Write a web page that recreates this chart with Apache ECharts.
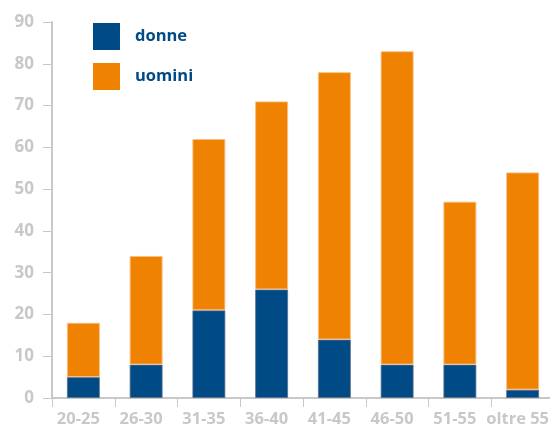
<!DOCTYPE html>
<html>
<head>
<meta charset="utf-8">
<script src="https://cdn.jsdelivr.net/npm/echarts@6/dist/echarts.min.js"></script>
<style>
  html, body { margin: 0; padding: 0; background: #fff; }
  #chart { width: 550px; height: 428px; }
</style>
</head>
<body>
<div id="chart"></div>
<script>
// Age groups and headcounts by gender
const categories = ['20-25', '26-30', '31-35', '36-40', '41-45', '46-50', '51-55', 'oltre 55'];
const donne = [5, 8, 21, 26, 14, 8, 8, 2];
const uomini = [13, 26, 41, 45, 64, 75, 39, 52];
const yTicks = { min: 0, max: 90, interval: 10 };

const BLUE = '#004a85';
const ORANGE = '#ef8200';
const GREY = '#c8c8c8';
const FONT = '"Open Sans", "Liberation Sans", sans-serif';

const chart = echarts.init(document.getElementById('chart'), null, { renderer: 'canvas' });
chart.setOption({
  animation: false,
  grid: { left: 52, right: -4, top: 22, bottom: 30, containLabel: false, outerBoundsMode: 'none' },
  legend: {
    orient: 'vertical',
    left: 93,
    top: 23,
    padding: 0,
    itemWidth: 27,
    itemHeight: 27,
    itemGap: 13,
    icon: 'rect',
    itemStyle: { borderWidth: 0 },
    textStyle: { color: BLUE, fontFamily: FONT, fontWeight: 'bold', fontSize: 16.5, padding: [0, 0, 0, 10] },
    data: ['donne', 'uomini']
  },
  xAxis: {
    type: 'category',
    data: categories,
    boundaryGap: true,
    axisLine: { lineStyle: { color: GREY, width: 2 } },
    axisTick: { show: true, length: 9, lineStyle: { color: GREY, width: 1 } },
    axisLabel: {
      color: GREY, fontFamily: FONT, fontWeight: 'bold', fontSize: 16.5,
      margin: 13, interval: 0, padding: [0, 10, 0, 0]
    },
    splitLine: { show: false }
  },
  yAxis: {
    type: 'value',
    min: yTicks.min,
    max: yTicks.max,
    interval: yTicks.interval,
    axisLine: { show: true, lineStyle: { color: GREY, width: 2 } },
    axisTick: { show: true, length: 9, lineStyle: { color: GREY, width: 1 } },
    axisLabel: { color: GREY, fontFamily: FONT, fontWeight: 'bold', fontSize: 17, margin: 18 },
    splitLine: { show: false }
  },
  series: [
    {
      name: 'donne',
      type: 'bar',
      stack: 'tot',
      barWidth: 33,
      data: donne,
      itemStyle: { color: BLUE, borderColor: 'rgba(90,110,140,0.8)', borderWidth: 1 }
    },
    {
      name: 'uomini',
      type: 'bar',
      stack: 'tot',
      barWidth: 33,
      data: uomini,
      itemStyle: { color: ORANGE, borderColor: 'rgba(250,190,130,0.9)', borderWidth: 1 }
    }
  ]
});
</script>
</body>
</html>
